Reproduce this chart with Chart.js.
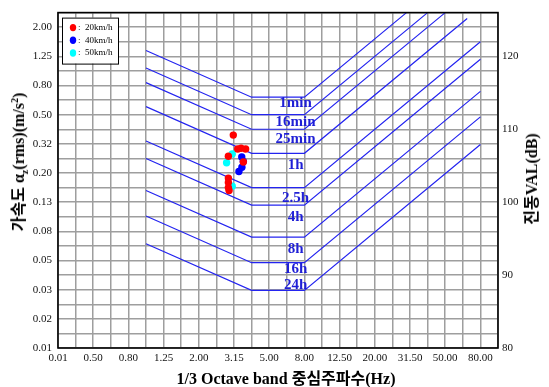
<!DOCTYPE html>
<html>
<head>
<meta charset="utf-8">
<script src="https://cdn.jsdelivr.net/npm/chart.js@4.4.1/dist/chart.umd.min.js"></script>
<style>
body { margin: 0; background: #fff; }
#wrap { position: relative; width: 549px; height: 387px; }
.title { position: absolute; white-space: nowrap; line-height: 1; font-family: "Liberation Serif", serif; font-weight: bold; font-size: 16px; color: #000; transform: translate(-50%, -50%); }
.title sub, .title sup { font-size: 10px; line-height: 0; }
.kr { font-family: "Noto Sans CJK KR", sans-serif; font-weight: bold; }
.rot { transform: translate(-50%, -50%) rotate(-90deg); }
</style>
</head>
<body>
<div id="wrap">
  <canvas id="grafico" width="549" height="387"></canvas>
  <div class="title" style="left:286px; top:378px;">1/3 Octave band <span class="kr">중심주파수</span>(Hz)</div>
  <div class="title rot" style="left:18px; top:162px;"><span class="kr">가속도</span> α<sub>z</sub>(rms)(m/s<sup>2</sup>)</div>
  <div class="title rot" style="left:531px; top:179px;"><span class="kr">진동</span>VAL(dB)</div>
</div>
<script>
// eje x: bandas de 1/3 de octava (una linea de rejilla por banda, etiqueta cada 2)
const bandLabels = ['0.01', '0.50', '0.80', '1.25', '2.00', '3.15', '5.00', '8.00', '12.50', '20.00', '31.50', '50.00', '80.00'];
// eje y izquierdo: aceleracion, una etiqueta cada 4 dB empezando en 80 dB
const accelLabels = ['0.01', '0.02', '0.03', '0.05', '0.08', '0.13', '0.20', '0.32', '0.50', '0.80', '1.25', '2.00'];
const dbLabels = [80, 90, 100, 110, 120];

// curvas limite (dB): 1 Hz, meseta 4-8 Hz, y punto final
const kneeBands = [5, 11, 14];
const limitNames = ['1min', '16min', '25min', '1h', '2.5h', '4h', '8h', '16h', '24h'];
const limitAt1Hz = [120.8, 118.4, 116.4, 113.1, 108.4, 106.0, 101.6, 98.1, 94.3];
const limitFlat = [114.4, 112.0, 110.0, 106.7, 102.0, 99.6, 95.2, 91.7, 87.9];
const limitEndBand = [19.8, 21.0, 22.0, 23.25, 24, 24, 24, 24, 24];
const limitEndDb = [126, 126, 126, 125.2, 122.0, 119.6, 115.2, 111.7, 107.9];
const limitLabelDb = [113.6, 111.0, 108.7, 105.1, 100.6, 97.9, 93.6, 90.8, 88.6];

// mediciones (banda, dB)
const kmh20 = [
    {x: 9.96, y: 109.2}, {x: 10.21, y: 107.3}, {x: 10.40, y: 107.4}, {x: 10.66, y: 107.3},
    {x: 9.68, y: 106.3}, {x: 10.53, y: 105.5}, {x: 9.68, y: 103.3}, {x: 9.68, y: 102.7},
    {x: 9.68, y: 102.0}, {x: 9.72, y: 101.6}
];
const kmh40 = [
    {x: 10.44, y: 106.2}, {x: 10.53, y: 105.6}, {x: 10.45, y: 104.8}, {x: 10.28, y: 104.2}
];
const kmh50 = [
    {x: 9.90, y: 106.6}, {x: 9.58, y: 105.4}, {x: 9.90, y: 102.2}
];

const serif = 'Liberation Serif';
const lineBlue = '#2424f0';

const limitDatasets = limitNames.map((name, i) => ({
    label: name,
    data: [
        {x: kneeBands[0], y: limitAt1Hz[i]},
        {x: kneeBands[1], y: limitFlat[i]},
        {x: kneeBands[2], y: limitFlat[i]},
        {x: limitEndBand[i], y: limitEndDb[i]}
    ],
    showLine: true,
    borderColor: lineBlue,
    borderWidth: 1.2,
    pointRadius: 0,
    fill: false,
    order: 10
}));

function puntos(label, data, color, order) {
    return { label, data, backgroundColor: color, borderWidth: 0, pointRadius: 3.7, order };
}

// textos de las curvas, leyenda y marco
const extras = {
    id: 'extras',
    afterDatasetsDraw(chart) {
        const ctx = chart.ctx;
        const x = chart.scales.x;
        const y = chart.scales.y;
        const area = chart.chartArea;
        ctx.save();

        ctx.fillStyle = '#1f1fd6';
        ctx.font = 'bold 15px "' + serif + '"';
        ctx.textAlign = 'center';
        ctx.textBaseline = 'middle';
        limitNames.forEach((name, i) => {
            ctx.fillText(name, x.getPixelForValue(13.5), y.getPixelForValue(limitLabelDb[i]));
        });

        // leyenda
        const lx = area.left + 4, ly = area.top + 5;
        ctx.fillStyle = '#fff';
        ctx.fillRect(lx, ly, 56, 46);
        ctx.strokeStyle = '#000';
        ctx.lineWidth = 1;
        ctx.strokeRect(lx + 0.5, ly + 0.5, 56, 46);
        const items = [['20km/h', '#ff0000'], ['40km/h', '#0000ff'], ['50km/h', '#00ffff']];
        ctx.font = '9px "' + serif + '"';
        ctx.textAlign = 'left';
        items.forEach((it, i) => {
            const cy = ly + 10 + i * 12.7;
            ctx.fillStyle = it[1];
            ctx.beginPath();
            ctx.ellipse(lx + 11, cy, 3.2, 3.7, 0, 0, Math.PI * 2);
            ctx.fill();
            ctx.fillStyle = '#000';
            ctx.fillText(':  ' + it[0], lx + 16, cy);
        });

        ctx.strokeStyle = '#000';
        ctx.lineWidth = 1.6;
        ctx.strokeRect(area.left, area.top, area.right - area.left, area.bottom - area.top);
        ctx.restore();
    }
};

new Chart(document.getElementById('grafico'), {
    type: 'scatter',
    data: {
        datasets: [
            puntos('20km/h', kmh20, '#ff0000', 1),
            puntos('40km/h', kmh40, '#0000ff', 2),
            puntos('50km/h', kmh50, '#00ffff', 3),
            ...limitDatasets
        ]
    },
    options: {
        responsive: false,
        animation: false,
        layout: { padding: { top: 7, left: 0, right: 0, bottom: 0 } },
        plugins: { legend: { display: false }, tooltip: { enabled: false } },
        scales: {
            x: {
                type: 'linear', min: 0, max: 25,
                afterFit: s => { s.height = 39; },
                grid: { color: '#9e9e9e', lineWidth: 1.5, drawTicks: false },
                border: { display: false },
                ticks: {
                    stepSize: 1, maxTicksLimit: 100, autoSkip: false, maxRotation: 0, padding: 4,
                    color: '#111', font: { family: serif, size: 11 },
                    callback: v => (v % 2 === 0 ? bandLabels[v / 2] : '')
                }
            },
            y: {
                type: 'linear', position: 'left', min: 80, max: 126,
                afterFit: s => { s.width = 58; },
                grid: { color: '#9e9e9e', lineWidth: 1.5, drawTicks: false },
                border: { display: false },
                ticks: {
                    stepSize: 2, maxTicksLimit: 100, autoSkip: false, padding: 6,
                    color: '#111', font: { family: serif, size: 11 },
                    callback: v => ((v - 80) % 4 === 0 ? accelLabels[(v - 80) / 4] : '')
                }
            },
            y2: {
                type: 'linear', position: 'right', min: 80, max: 126,
                afterFit: s => { s.width = 51; },
                grid: { display: false, drawTicks: false },
                border: { display: false },
                ticks: {
                    stepSize: 10, maxTicksLimit: 100, autoSkip: false, padding: 4,
                    color: '#111', font: { family: serif, size: 11 },
                    callback: v => (dbLabels.includes(v) ? String(v) : '')
                }
            }
        }
    },
    plugins: [extras]
});
</script>
</body>
</html>
